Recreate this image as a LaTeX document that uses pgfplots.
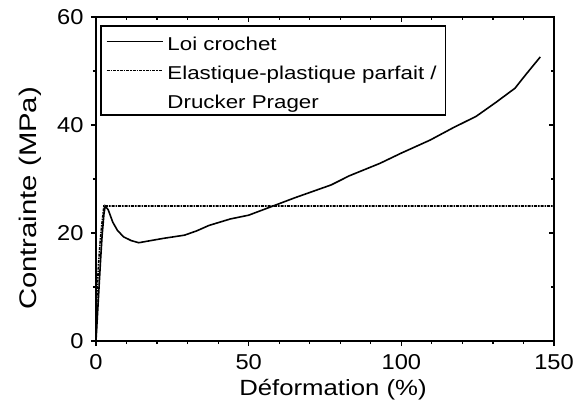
\documentclass[border=0pt]{standalone}
\usepackage{pgfplots}
\pgfplotsset{compat=1.18}
\usepackage{fontspec}
\setmainfont{Liberation Sans}[FakeStretch=1.2]
\newfontfamily\tickfont{Liberation Sans}[FakeStretch=1.1]
\newfontfamily\xlabfont{Liberation Sans}[FakeStretch=1.17]
\newfontfamily\ylabfont{Liberation Sans}[FakeStretch=1.22]

\begin{document}
\begin{tikzpicture}
\pgfplotsset{
    common/.style={
        scale only axis,
        width=458pt, height=324pt,
        xmin=0, xmax=150, ymin=0, ymax=60,
        xtick={0,50,100,150}, ytick={0,20,40,60},
        minor x tick num=4, minor y tick num=1,
        major tick length=5pt, minor tick length=3pt,
        every tick/.style={black, line width=1.2pt},
        axis line style={line width=1.5pt},
    }
}
\begin{axis}[
    common, name=ax,
    tick align=outside,
    xtick pos=bottom, ytick pos=left,
    xticklabels={0,50,100,150}, yticklabels={0,20,40,60},
    every tick label/.append style={font=\tickfont\fontsize{21.5}{25}\selectfont},
    xticklabel style={yshift=-5pt},
    yticklabel style={xshift=-4pt},
    xlabel={\xlabfont\fontsize{22}{26}\selectfont Déformation (\%)},
    ylabel={\ylabfont\fontsize{24}{28}\selectfont Contrainte (MPa)},
    xlabel style={yshift=-2.5pt, xshift=8pt},
    ylabel style={at={(ticklabel cs:0.44,9pt)}},
    legend style={
        at={(0.009,0.975)}, anchor=north west,
        draw=black, line width=1.5pt,
        font=\fontsize{18.6}{23}\selectfont,
        inner xsep=5pt, inner ysep=1pt,
        row sep=0pt,
        nodes={text height=20pt, text depth=2pt, inner ysep=3.5pt, inner xsep=4pt},
    },
    legend cell align=left,
    legend image code/.code={\draw[#1] (0pt,0pt) -- (56pt,0pt);},
]
\addplot[black, line width=1.6pt] coordinates {
    (0,0) (0.5,5) (1,10) (1.5,15) (2,19.5) (2.6,23.5) (3,25) (4,24.3)
    (5.5,22) (7,20.5) (9,19.3) (11.5,18.6) (14,18.2) (18,18.6) (22,19)
    (29,19.6) (33,20.4) (37,21.4) (44,22.6) (50,23.3) (58,25) (65,26.5)
    (77,28.9) (83,30.6) (93,32.9) (100,34.8) (109.4,37.2) (117,39.5)
    (124.5,41.6) (131,44.2) (137.2,46.8) (141,49.5) (145.5,52.6)
};
\addlegendentry{Loi crochet}
\addplot[black, line width=1.6pt, dash pattern=on 3pt off 1pt on 1.5pt off 1pt] coordinates {
    (0,0) (0.3,8) (0.8,14) (1.3,18) (1.8,21) (2.3,23.5) (2.6,25) (150,25)
};
\addlegendentry{Elastique-plastique parfait /}
\addlegendimage{empty legend}
\addlegendentry{Drucker Prager}
\end{axis}
\begin{axis}[
    common,
    tick align=inside,
    xtick pos=top, ytick pos=right,
    xticklabels={}, yticklabels={},
]
\end{axis}
\pgfresetboundingbox
\path[use as bounding box] ([xshift=-96pt,yshift=-73pt]ax.south west) rectangle ++(577pt,414pt);
\end{tikzpicture}
\end{document}
